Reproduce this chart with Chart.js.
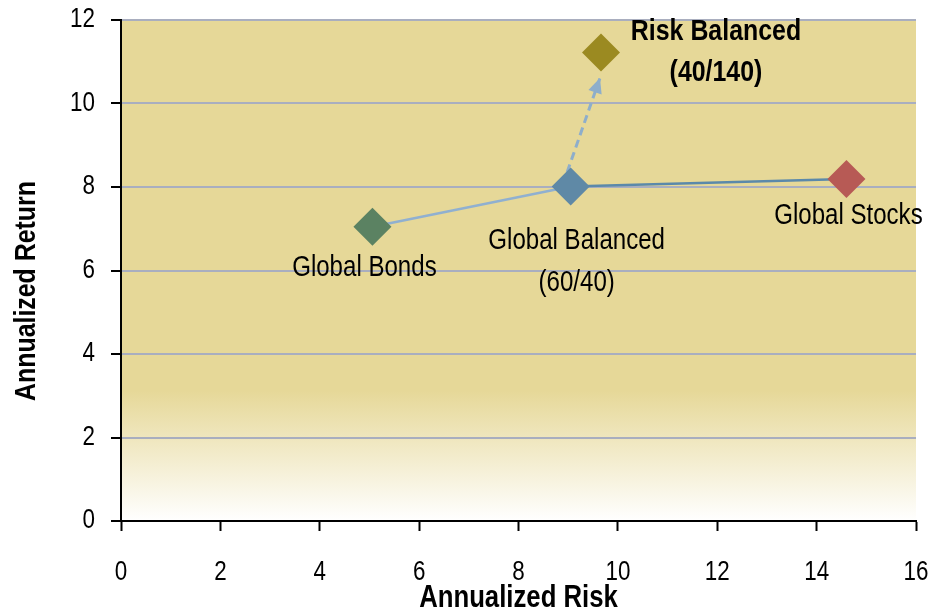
<!DOCTYPE html>
<html>
<head>
    <title>Risk and Return</title>
    <script src="https://cdn.jsdelivr.net/npm/chart.js"></script>
    <style>
        body {
            margin: 0;
            background-color: #ffffff;
        }
        #chartBox {
            width: 937px;
            height: 616px;
        }
    </style>
</head>
<body>
    <div id="chartBox">
        <canvas id="myChart"></canvas>
    </div>

    <script>
        // Portfolios: annualized risk (x) and annualized return (y)
        const portfolios = ["Global Bonds", "Global Balanced", "Global Stocks", "Risk Balanced"];
        const riskValues = [5.06, 9.05, 14.6, 9.66];
        const returnValues = [7.05, 8.01, 8.19, 11.22];
        const pointColors = ["#5b8262", "#5f89a6", "#b75a55", "#9b8a21"];

        // Label lines under / beside each point
        const pointLabels = [["Global Bonds"], ["Global Balanced", "(60/40)"], ["Global Stocks"], ["Risk Balanced", "(40/140)"]];

        // Leverage arrow from the 60/40 mix towards the risk balanced mix
        const arrowRisk = [8.98, 9.64];
        const arrowReturn = [8.36, 10.61];

        const xTicks = [0, 2, 4, 6, 8, 10, 12, 14, 16];
        const yTicks = [0, 2, 4, 6, 8, 10, 12];

        const fontFamily = "'Liberation Sans', Arial, sans-serif";
        const squeeze = 0.83;   // narrow look for all text
        const gridGray = "#a9aebf";

        // label placement (pixel offsets from the point) and weight
        const labelStyle = [
            { dx: -8, dy: 41, bold: false },
            { dx: 6, dy: 54, step: 42, bold: false },
            { dx: 2, dy: 37, bold: false },
            { dx: 115, dy: -21, step: 41, bold: true }
        ];

        const pts = riskValues.map((x, i) => ({ x: x, y: returnValues[i] }));

        function narrowText(ctx, text, x, y, font, align, rotate) {
            ctx.save();
            ctx.font = font;
            ctx.textAlign = align || 'center';
            ctx.textBaseline = 'middle';
            ctx.translate(x, y);
            if (rotate) ctx.rotate(rotate);
            ctx.scale(squeeze, 1);
            ctx.fillText(text, 0, 0);
            ctx.restore();
        }

        // gold background fading to white near the bottom
        const plotBackground = {
            id: 'plotBackground',
            beforeDraw(chart) {
                const { ctx, chartArea: a } = chart;
                const g = ctx.createLinearGradient(0, a.top, 0, a.bottom);
                g.addColorStop(0, '#e6d898');
                g.addColorStop(0.74, '#e6d898');
                g.addColorStop(1, '#ffffff');
                ctx.save();
                ctx.fillStyle = g;
                ctx.fillRect(a.left, a.top, a.right - a.left, a.bottom - a.top);
                ctx.restore();
            }
        };

        // arrow head, point labels, tick labels and axis titles
        const annotations = {
            id: 'annotations',
            afterDatasetsDraw(chart) {
                const ctx = chart.ctx;
                const arrowMeta = chart.getDatasetMeta(3);
                const p0 = arrowMeta.data[0], p1 = arrowMeta.data[1];
                const ang = Math.atan2(p1.y - p0.y, p1.x - p0.x);
                ctx.save();
                ctx.fillStyle = '#8eaecb';
                ctx.translate(p1.x, p1.y);
                ctx.rotate(ang);
                ctx.beginPath();
                ctx.moveTo(0, 0);
                ctx.lineTo(-15, -7);
                ctx.lineTo(-15, 7);
                ctx.closePath();
                ctx.fill();
                ctx.restore();

                ctx.fillStyle = '#000';
                const meta = chart.getDatasetMeta(0);
                pointLabels.forEach((lines, i) => {
                    const el = meta.data[i];
                    const s = labelStyle[i];
                    const font = s.bold ? 'bold 30px ' + fontFamily : '29px ' + fontFamily;
                    lines.forEach((t, j) => {
                        narrowText(ctx, t, el.x + s.dx, el.y + s.dy + j * (s.step || 0), font);
                    });
                });
            },
            afterDraw(chart) {
                const ctx = chart.ctx;
                const xs = chart.scales.x, ys = chart.scales.y;
                const tickFont = '27px ' + fontFamily;
                ctx.fillStyle = '#000';
                xTicks.forEach(v => narrowText(ctx, String(v), xs.getPixelForValue(v), 573, tickFont));
                yTicks.forEach(v => narrowText(ctx, String(v), 95, ys.getPixelForValue(v), tickFont, 'right'));
                narrowText(ctx, 'Annualized Risk', (xs.left + xs.right) / 2, 598, 'bold 31px ' + fontFamily);
                narrowText(ctx, 'Annualized Return', 27, 291, 'bold 30px ' + fontFamily, 'center', -Math.PI / 2);
            }
        };

        const ctx = document.getElementById('myChart').getContext('2d');
        const myChart = new Chart(ctx, {
            type: 'scatter',
            data: {
                datasets: [
                    {
                        label: 'Portfolios',
                        data: pts,
                        pointStyle: 'rectRot',
                        pointRadius: 19,
                        pointHoverRadius: 19,
                        backgroundColor: pointColors,
                        borderColor: pointColors,
                        borderWidth: 0,
                        order: 0
                    },
                    {
                        label: 'Bonds to balanced',
                        data: [pts[0], pts[1]],
                        showLine: true,
                        borderColor: '#90b0d0',
                        borderWidth: 2.5,
                        pointRadius: 0,
                        order: 2
                    },
                    {
                        label: 'Balanced to stocks',
                        data: [pts[1], pts[2]],
                        showLine: true,
                        borderColor: '#5b89aa',
                        borderWidth: 2.5,
                        pointRadius: 0,
                        order: 2
                    },
                    {
                        label: 'Leverage',
                        data: arrowRisk.map((x, i) => ({ x: x, y: arrowReturn[i] })),
                        showLine: true,
                        borderColor: '#8eaecb',
                        borderWidth: 3,
                        borderDash: [8, 5],
                        pointRadius: 0,
                        order: 1
                    }
                ]
            },
            options: {
                responsive: true,
                maintainAspectRatio: false,
                animation: false,
                layout: {
                    padding: { top: 20, right: 21, left: 0, bottom: 0 }
                },
                plugins: {
                    legend: { display: false },
                    tooltip: { enabled: false }
                },
                scales: {
                    x: {
                        type: 'linear',
                        min: 0,
                        max: 16,
                        afterBuildTicks: s => { s.ticks = xTicks.map(v => ({ value: v })); },
                        afterFit: s => { s.height = 95; },
                        border: { color: '#000', width: 2 },
                        grid: {
                            drawOnChartArea: false,
                            tickColor: '#000',
                            tickWidth: 2,
                            tickLength: 10
                        },
                        ticks: { display: false }
                    },
                    y: {
                        type: 'linear',
                        min: 0,
                        max: 12,
                        afterBuildTicks: s => { s.ticks = yTicks.map(v => ({ value: v })); },
                        afterFit: s => { s.width = 121; },
                        border: { color: '#000', width: 2 },
                        grid: {
                            color: c => (c.tick && c.tick.value === 0) ? 'rgba(0,0,0,0)' : gridGray,
                            lineWidth: 2,
                            tickColor: '#000',
                            tickWidth: 2,
                            tickLength: 10
                        },
                        ticks: { display: false }
                    }
                }
            },
            plugins: [plotBackground, annotations]
        });
    </script>
</body>
</html>
